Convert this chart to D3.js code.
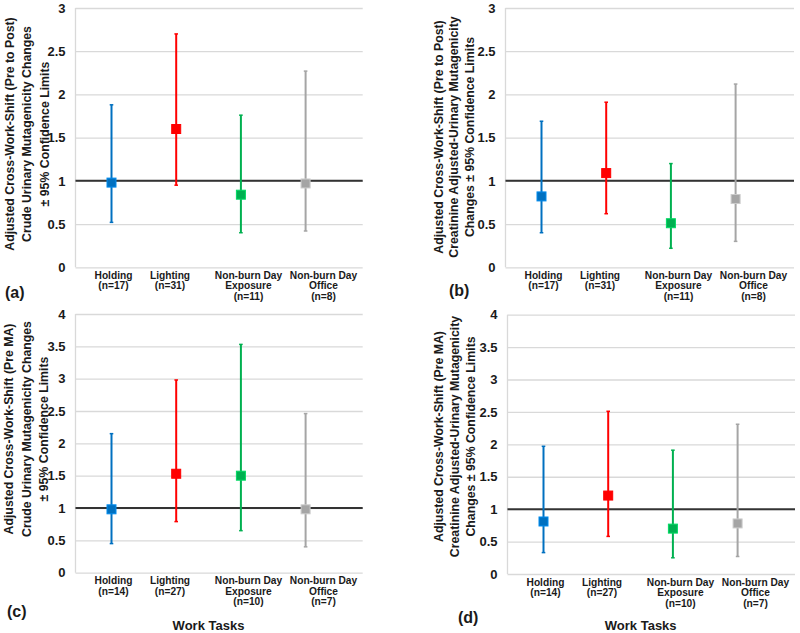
<!DOCTYPE html>
<html>
<head>
<meta charset="utf-8">
<script src="https://cdn.jsdelivr.net/npm/d3@7"></script>
<style>
  body { margin: 0; background: #fff; }
  svg { display: block; font-family: Arial, "Liberation Sans", sans-serif; font-weight: bold; }
</style>
</head>
<body>
<svg id="chart" width="800" height="633"></svg>
<script>
// Work tasks (x categories) and their label lines
const tasks = ["Holding", "Lighting", "Non-burn Day Exposure", "Non-burn Day Office"];
const taskLines = [["Holding"], ["Lighting"], ["Non-burn Day", "Exposure"], ["Non-burn Day", "Office"]];
const nPrePost = [17, 31, 11, 8];
const nPreMA = [14, 27, 10, 7];
const taskColors = ["#0070C0", "#FF0000", "#00B050", "#A5A5A5"];

// (a) crude, pre to post
const aMean = [0.98, 1.60, 0.84, 0.97];
const aLow  = [0.52, 0.95, 0.40, 0.42];
const aHigh = [1.88, 2.70, 1.76, 2.27];
// (b) creatinine adjusted, pre to post
const bMean = [0.82, 1.09, 0.51, 0.79];
const bLow  = [0.40, 0.62, 0.22, 0.30];
const bHigh = [1.69, 1.91, 1.20, 2.12];
// (c) crude, pre MA
const cMean = [0.98, 1.53, 1.50, 0.98];
const cLow  = [0.45, 0.79, 0.65, 0.40];
const cHigh = [2.15, 2.98, 3.53, 2.46];
// (d) creatinine adjusted, pre MA
const dMean = [0.81, 1.21, 0.70, 0.78];
const dLow  = [0.33, 0.58, 0.25, 0.27];
const dHigh = [1.97, 2.51, 1.91, 2.31];

const titleCrudePost = ["Adjusted Cross-Work-Shift (Pre to Post)", "Crude Urinary Mutagenicity Changes", "± 95% Confidence Limits"];
const titleCreatPost = ["Adjusted Cross-Work-Shift (Pre to Post)", "Creatinine Adjusted-Urinary Mutagenicity", "Changes ± 95% Confidence Limits"];
const titleCrudeMA = ["Adjusted Cross-Work-Shift (Pre MA)", "Crude Urinary Mutagenicity Changes", "± 95% Confidence Limits"];
const titleCreatMA = ["Adjusted Cross-Work-Shift (Pre MA)", "Creatinine Adjusted-Urinary Mutagenicity", "Changes ± 95% Confidence Limits"];

const svg = d3.select("#chart");

const panels = [
    { tag: "(a)", mean: aMean, low: aLow, high: aHigh, n: nPrePost, yMax: 3, title: titleCrudePost,
      left: 75.5, right: 362.7, top: 8, bottom: 267.3, titleX: [14, 31, 48.5], titleY: 134, tagX: 5, tagY: 297.5 },
    { tag: "(b)", mean: bMean, low: bLow, high: bHigh, n: nPrePost, yMax: 3, title: titleCreatPost,
      left: 505.5, right: 794, top: 8, bottom: 267.3, titleX: [442.5, 458, 473.5], titleY: 137, tagX: 449, tagY: 296 },
    { tag: "(c)", mean: cMean, low: cLow, high: cHigh, n: nPreMA, yMax: 4, title: titleCrudeMA,
      left: 75.5, right: 362.7, top: 314, bottom: 572.7, titleX: [13, 30.5, 48], titleY: 429, tagX: 7, tagY: 617, workX: 208.5 },
    { tag: "(d)", mean: dMean, low: dLow, high: dHigh, n: nPreMA, yMax: 4, title: titleCreatMA,
      left: 507.5, right: 795, top: 314.7, bottom: 574, titleX: [443, 459, 474.5], titleY: 436.5, tagX: 458, tagY: 622.5, workX: 640.7 }
];

// label centres, measured from the plot's left edge
const labelOffset = [38, 94.5, 173, 248];

function drawPanel(p) {
    const g = svg.append("g");

    const y = d3.scaleLinear().domain([0, p.yMax]).range([p.bottom, p.top]);
    const x = d3.scalePoint().domain(tasks).range([p.left + 36, p.left + 36 + 3 * 64.7]);

    // gridlines + tick labels
    const axis = d3.axisLeft(y)
        .tickValues(d3.range(0, p.yMax + 0.001, 0.5))
        .tickSize(-(p.right - p.left))
        .tickPadding(10)
        .tickFormat(d => String(d));

    const ax = g.append("g")
        .attr("transform", `translate(${p.left},0)`)
        .call(axis);
    ax.select(".domain").remove();
    ax.selectAll(".tick line").attr("stroke", "#d9d9d9").attr("stroke-width", 1.3);
    ax.selectAll(".tick text")
        .attr("fill", "#1a1a1a")
        .style("font-size", "13px")
        .style("font-family", "Arial, 'Liberation Sans', sans-serif")
        .style("font-weight", "bold");

    // left axis line
    g.append("line")
        .attr("x1", p.left).attr("x2", p.left)
        .attr("y1", p.top).attr("y2", p.bottom)
        .attr("stroke", "#d9d9d9").attr("stroke-width", 1.3);

    // reference line at 1
    g.append("line")
        .attr("x1", p.left).attr("x2", p.right)
        .attr("y1", y(1)).attr("y2", y(1))
        .attr("stroke", "#333").attr("stroke-width", 2);

    const rows = tasks.map((t, i) => ({ task: t, mean: p.mean[i], low: p.low[i], high: p.high[i], color: taskColors[i] }));

    // error bars
    g.selectAll(".bar")
        .data(rows)
        .join("line")
        .attr("class", "bar")
        .attr("x1", d => x(d.task)).attr("x2", d => x(d.task))
        .attr("y1", d => y(d.low)).attr("y2", d => y(d.high))
        .attr("stroke", d => d.color).attr("stroke-width", 2);

    ["low", "high"].forEach(k => {
        g.selectAll(".cap-" + k)
            .data(rows)
            .join("line")
            .attr("class", "cap-" + k)
            .attr("x1", d => x(d.task) - 1.8).attr("x2", d => x(d.task) + 1.8)
            .attr("y1", d => y(d[k])).attr("y2", d => y(d[k]))
            .attr("stroke", d => d.color).attr("stroke-width", 1.5);
    });

    // square markers
    g.selectAll(".mark")
        .data(rows)
        .join("rect")
        .attr("class", "mark")
        .attr("x", d => x(d.task) - 4.5).attr("y", d => y(d.mean) - 4.5)
        .attr("width", 9).attr("height", 9)
        .attr("fill", d => d.color)
        .attr("stroke", d => d3.color(d.color).brighter(0.6))
        .attr("stroke-width", 1);

    // category labels
    const lbl = g.selectAll(".xlabel")
        .data(tasks)
        .join("text")
        .attr("class", "xlabel")
        .attr("text-anchor", "middle")
        .attr("fill", "#1a1a1a")
        .style("font-size", "10.2px");
    lbl.each(function (t, i) {
        const lines = taskLines[i].concat([`(n=${p.n[i]})`]);
        d3.select(this).selectAll("tspan")
            .data(lines)
            .join("tspan")
            .attr("x", p.left + labelOffset[i])
            .attr("y", (d, j) => p.bottom + 11.5 + j * 10.6)
            .text(d => d);
    });

    // rotated y title
    g.append("g")
        .selectAll("text")
        .data(p.title)
        .join("text")
        .attr("transform", (d, j) => `translate(${p.titleX[j]},${p.titleY}) rotate(-90)`)
        .attr("text-anchor", "middle")
        .attr("fill", "#1a1a1a")
        .style("font-size", "12.3px")
        .text(d => d);

    // panel tag
    g.append("text")
        .attr("x", p.tagX).attr("y", p.tagY)
        .attr("fill", "#1a1a1a")
        .style("font-size", "16px")
        .text(p.tag);

    if (p.workX) {
        g.append("text")
            .attr("x", p.workX).attr("y", 629.5)
            .attr("text-anchor", "middle")
            .attr("fill", "#1a1a1a")
            .style("font-size", "13px")
            .text("Work Tasks");
    }
}

panels.forEach(drawPanel);
</script>
</body>
</html>
